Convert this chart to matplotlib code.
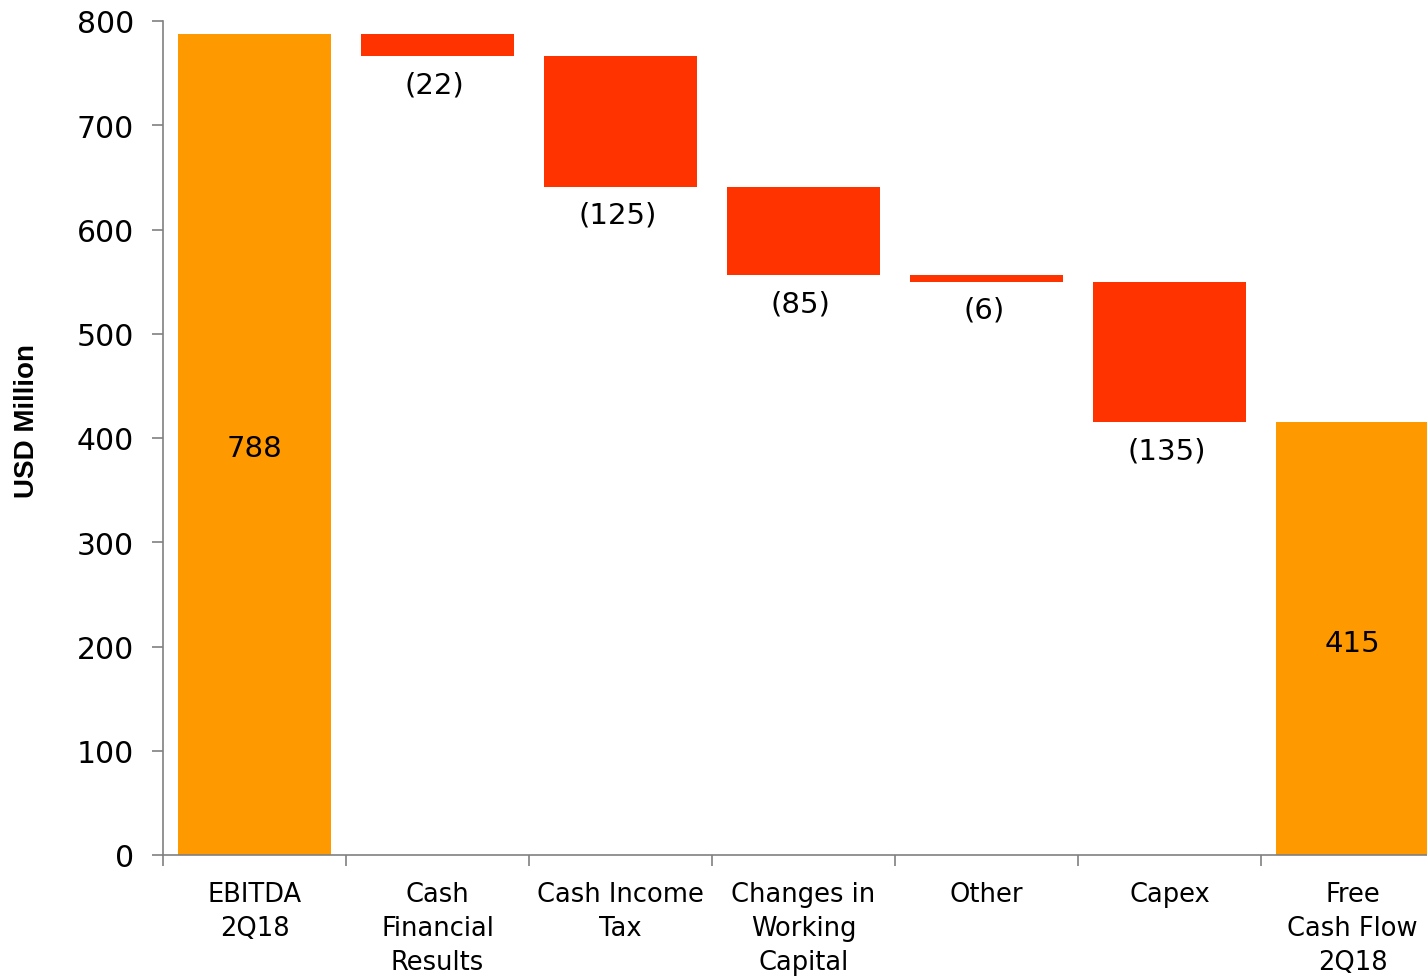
import numpy as np
import matplotlib
matplotlib.use("Agg")
import matplotlib.pyplot as plt

# waterfall data, USD million
categories = ["EBITDA\n2Q18", "Cash\nFinancial\nResults", "Cash Income\nTax",
              "Changes in\nWorking\nCapital", "Other", "Capex", "Free\nCash Flow\n2Q18"]
start_value = 788
changes = [-22, -125, -85, -6, -135]
end_value = 415
yticks = [0, 100, 200, 300, 400, 500, 600, 700, 800]

ORANGE = "#FF9900"
RED = "#FF3300"
GREY = "#808080"

# bottoms/heights for each step
level = [start_value]
for c in changes:
    level.append(level[-1] + c)
bottoms = [0] + [level[i + 1] for i in range(len(changes))] + [0]
heights = [start_value] + [-c for c in changes] + [end_value]
colors = [ORANGE] + [RED] * len(changes) + [ORANGE]

fig = plt.figure(figsize=(14.27, 9.78), dpi=100)
ax = fig.add_axes([163 / 1427, 122 / 978, 1281 / 1427, 834 / 978])

x = np.arange(len(categories))
ax.bar(x, heights, bottom=bottoms, width=0.836, color=colors, linewidth=0)

# labels
for xi, v in [(x[0], start_value), (x[-1], end_value)]:
    ax.annotate(f"{v}", (xi, v / 2), xytext=(0, -3), textcoords="offset points",
                ha="center", va="center", fontsize=21)
for i, c in enumerate(changes):
    ax.annotate(f"({-c})", (x[i + 1], bottoms[i + 1]), xytext=(-2, -10),
                textcoords="offset points", ha="center", va="top", fontsize=21)

ax.set_xlim(-0.5, len(categories) - 0.5)
ax.set_ylim(0, 800)
ax.set_yticks(yticks)
ax.tick_params(axis="y", labelsize=21.5, length=8, width=1.2, color=GREY, pad=13)

# category ticks sit on the slot boundaries
ax.set_xticks(np.arange(len(categories) + 1) - 0.5)
ax.set_xticklabels([])
ax.tick_params(axis="x", length=8, width=1.2, color=GREY)
ax.set_xticks(x, minor=True)
ax.set_xticklabels(categories, minor=True, fontsize=18.5)
for t in ax.get_xticklabels(minor=True):
    t.set_linespacing(1.4)
ax.tick_params(axis="x", which="minor", length=0, pad=19)

for s in ["top", "right"]:
    ax.spines[s].set_visible(False)
for s in ["left", "bottom"]:
    ax.spines[s].set_color(GREY)
    ax.spines[s].set_linewidth(1.2)

ax.set_ylabel("USD Million", fontsize=20, fontweight="bold", family="Liberation Sans")
ax.yaxis.set_label_coords((40 - 163) / 1281, (856 - 421) / 834)

fig.savefig("out.png", dpi=100)
